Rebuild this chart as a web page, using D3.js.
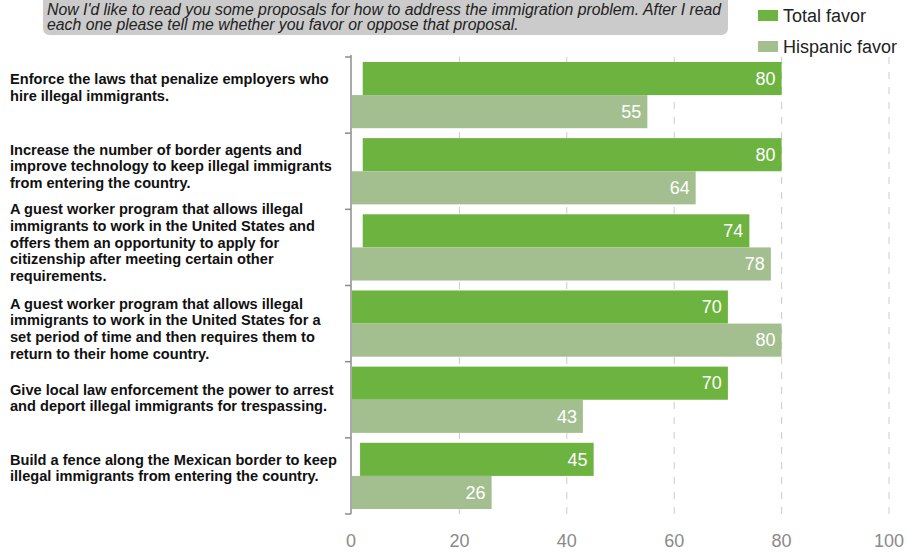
<!DOCTYPE html>
<html>
<head>
<meta charset="utf-8">
<script src="https://cdn.jsdelivr.net/npm/d3@7"></script>
<style>
  body { margin: 0; background: #fff; }
  svg { display: block; font-family: "Liberation Sans", Arial, sans-serif; }
</style>
</head>
<body>
<svg id="chart" width="908" height="552"></svg>
<script>
// ---- data ----
const categories = [
  ["Enforce the laws that penalize employers who", "hire illegal immigrants."],
  ["Increase the number of border agents and", "improve technology to keep illegal immigrants", "from entering the country."],
  ["A guest worker program that allows illegal", "immigrants to work in the United States and", "offers them an opportunity to apply for", "citizenship after meeting certain other", "requirements."],
  ["A guest worker program that allows illegal", "immigrants to work in the United States for a", "set period of time and then requires them to", "return to their home country."],
  ["Give local law enforcement the power to arrest", "and deport illegal immigrants for trespassing."],
  ["Build a fence along the Mexican border to keep", "illegal immigrants from entering the country."]
];
const seriesNames = ["Total favor", "Hispanic favor"];
const totalFavor = [80, 80, 74, 70, 70, 45];
const totalHiddenStart = [2, 2, 2, 0, 0, 1.5];
const hispanicFavor = [55, 64, 78, 80, 43, 26];
const xTicks = [0, 20, 40, 60, 80, 100];
const headerLines = [
  "Now I'd like to read you some proposals for how to address the immigration problem. After I read",
  "each one please tell me whether you favor or oppose that proposal."
];
const colors = ["#6db33f", "#a4bf8f"];

// ---- drawing ----
const svg = d3.select("#chart");
const ids = categories.map((d, i) => i);

const x = d3.scaleLinear().domain([0, 100]).range([352, 889]);
const y = d3.scaleBand().domain(ids).range([57, 514]).paddingInner(0).paddingOuter(0);
const ySub = d3.scaleBand().domain(seriesNames).range([0, y.bandwidth()]).paddingInner(0).paddingOuter(0.15);

// header box
svg.append("path")
  .attr("d", (() => { const l = 43, r = 728, t = -10, b = 35, rad = 7;
    return `M${l},${t} L${r},${t} L${r},${b - rad} Q${r},${b} ${r - rad},${b} L${l + rad},${b} Q${l},${b} ${l},${b - rad} Z`; })())
  .attr("fill", "#cbcbcb");
svg.append("g").selectAll("text").data(headerLines).join("text")
  .attr("x", 47).attr("y", (d, i) => 14.5 + i * 15.5)
  .attr("font-size", 15.8).attr("font-style", "italic").attr("fill", "#222")
  .text(d => d);

// gridlines
svg.append("g").selectAll("line").data(xTicks.filter(t => t > 0)).join("line")
  .attr("x1", d => x(d)).attr("x2", d => x(d))
  .attr("y1", 57).attr("y2", 514)
  .attr("stroke", "#cccccc").attr("stroke-width", 1)
  .attr("stroke-dasharray", "7,8");

// bars
const g = svg.append("g");
ids.forEach(i => {
  const y0 = y(i);
  g.append("rect")
    .attr("x", x(totalHiddenStart[i])).attr("y", y0 + ySub("Total favor"))
    .attr("width", x(totalFavor[i]) - x(totalHiddenStart[i])).attr("height", ySub.bandwidth())
    .attr("fill", colors[0]);
  g.append("rect")
    .attr("x", x(0)).attr("y", y0 + ySub("Hispanic favor"))
    .attr("width", x(hispanicFavor[i]) - x(0)).attr("height", ySub.bandwidth())
    .attr("fill", colors[1]);
  g.append("text")
    .attr("x", x(totalFavor[i]) - 6).attr("y", y0 + ySub("Total favor") + ySub.bandwidth() / 2)
    .attr("dy", "0.35em").attr("text-anchor", "end")
    .attr("font-size", 18).attr("fill", "#fff").text(totalFavor[i]);
  g.append("text")
    .attr("x", x(hispanicFavor[i]) - 6).attr("y", y0 + ySub("Hispanic favor") + ySub.bandwidth() / 2)
    .attr("dy", "0.35em").attr("text-anchor", "end")
    .attr("font-size", 18).attr("fill", "#fff").text(hispanicFavor[i]);
});

// y axis line and ticks
const yAxis = svg.append("g");
yAxis.append("line").attr("x1", 351).attr("x2", 351).attr("y1", 55).attr("y2", 514)
  .attr("stroke", "#8c8c8c").attr("stroke-width", 1.5);
const boundaries = ids.map(i => y(i)).concat([y(ids[ids.length - 1]) + y.bandwidth()]);
yAxis.selectAll("line.tk").data(boundaries).join("line").attr("class", "tk")
  .attr("x1", 345).attr("x2", 351).attr("y1", d => d).attr("y2", d => d)
  .attr("stroke", "#8c8c8c").attr("stroke-width", 1.5);

// category labels
const lineH = 16.7;
const offsets = [-8, -5, -5, 5, -2, -8];
ids.forEach(i => {
  const lines = categories[i];
  const cy = y(i) + y.bandwidth() / 2 + offsets[i];
  const top = cy - (lines.length - 1) * lineH / 2;
  svg.append("text")
    .attr("font-size", 14.6).attr("font-weight", "bold").attr("fill", "#111")
    .selectAll("tspan").data(lines).join("tspan")
    .attr("x", 10).attr("y", (d, k) => top + k * lineH).attr("dy", "0.35em")
    .text(d => d);
});

// x axis labels
svg.append("g").selectAll("text").data(xTicks).join("text")
  .attr("x", d => x(d) - (d === 0 ? 1 : 0)).attr("y", 541).attr("dy", "0.35em")
  .attr("text-anchor", "middle").attr("font-size", 18).attr("fill", "#8a8a8a")
  .text(d => d);

// legend
const leg = svg.append("g");
seriesNames.forEach((s, i) => {
  leg.append("rect").attr("x", 758).attr("y", 10 + i * 31).attr("width", 20).attr("height", 11)
    .attr("fill", colors[i]);
  leg.append("text").attr("x", 783).attr("y", 15.5 + i * 31).attr("dy", "0.35em")
    .attr("font-size", 18).attr("fill", "#222").text(s);
});
</script>
</body>
</html>
